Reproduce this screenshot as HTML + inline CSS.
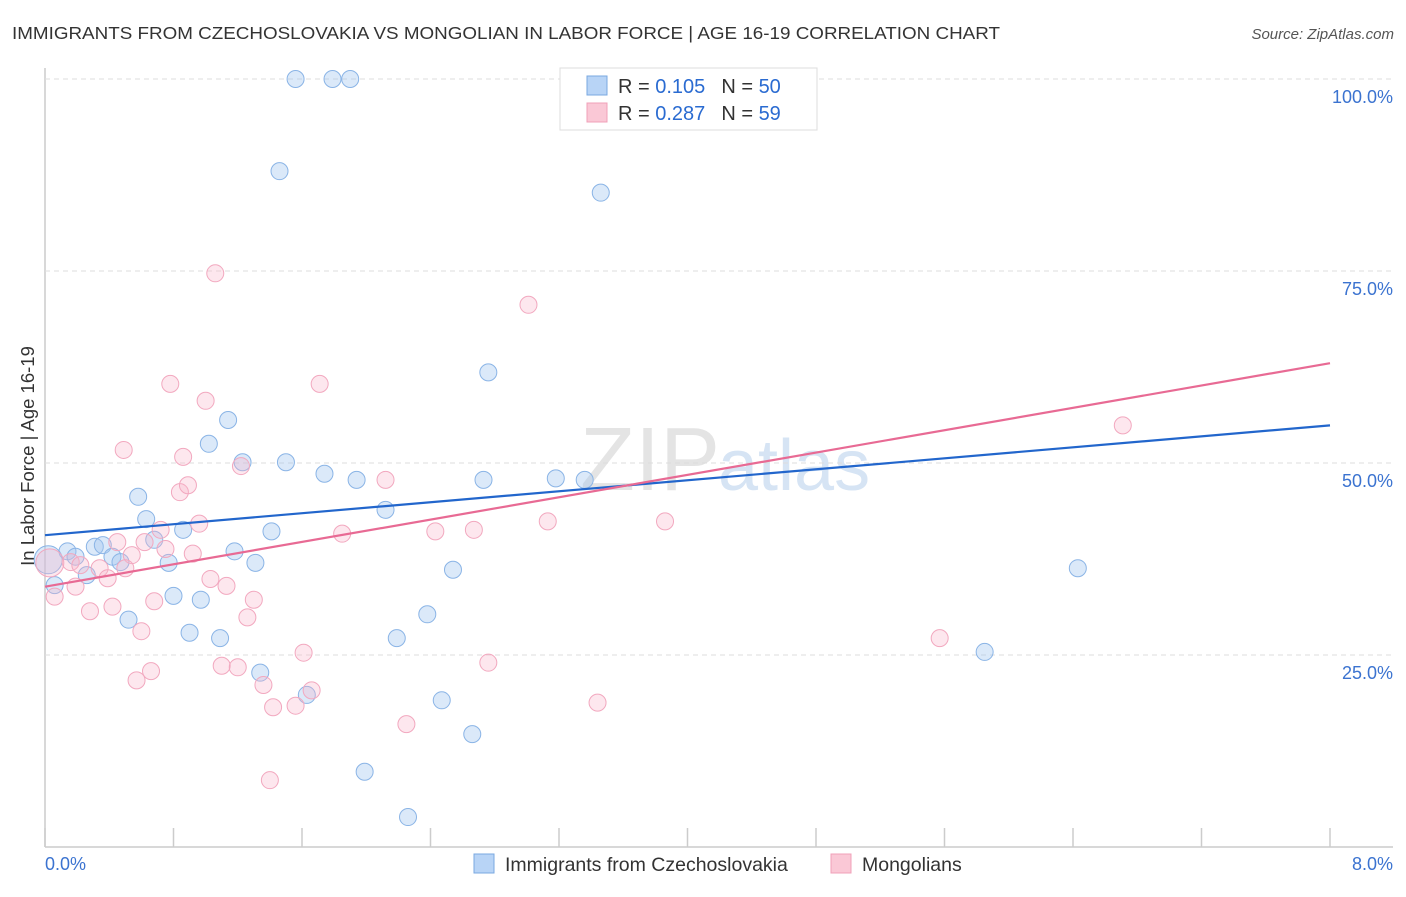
<!DOCTYPE html>
<html><head><meta charset="utf-8"><style>
body{margin:0;background:#fff;font-family:"Liberation Sans",sans-serif;}
svg text{font-family:"Liberation Sans",sans-serif;}
</style></head><body>
<svg id="chart" width="1406" height="892" xmlns="http://www.w3.org/2000/svg">
<text x="12" y="39" font-size="17.5" fill="#333" textLength="988" lengthAdjust="spacingAndGlyphs">IMMIGRANTS FROM CZECHOSLOVAKIA VS MONGOLIAN IN LABOR FORCE | AGE 16-19 CORRELATION CHART</text>
<text x="1394" y="39" font-size="15" fill="#555" text-anchor="end" font-style="italic">Source: ZipAtlas.com</text>
<text x="720" y="490" font-size="90" fill="#e4e4e4" text-anchor="end" font-family="Liberation Serif">ZIP</text>
<text x="718" y="490" font-size="72" fill="#d6e4f4">atlas</text>
<text transform="translate(34,456) rotate(-90)" font-size="18.5" fill="#333" text-anchor="middle">In Labor Force | Age 16-19</text>
<g id="grid"></g><g id="ticks"></g><g id="pts"></g><g id="lines"></g>
<g>
<rect x="560" y="68" width="257" height="62" fill="#fff" stroke="#ddd"/>
<rect x="587" y="76" width="20" height="19" fill="#b8d4f6" stroke="#7aa8e0"/>
<rect x="587" y="103" width="20" height="19" fill="#fac8d6" stroke="#f0a0b8"/>
<text x="618" y="93" font-size="20" fill="#333">R = <tspan fill="#2a6bd1">0.105</tspan><tspan dx="16">N = </tspan><tspan fill="#2a6bd1">50</tspan></text>
<text x="618" y="120" font-size="20" fill="#333">R = <tspan fill="#2a6bd1">0.287</tspan><tspan dx="16">N = </tspan><tspan fill="#2a6bd1"> 59</tspan></text>
</g>
<text x="45" y="870" font-size="18" fill="#3b73d0">0.0%</text>
<text x="1393" y="870" font-size="18" fill="#3b73d0" text-anchor="end">8.0%</text>
<g><rect x="474" y="854" width="20" height="19" fill="#b8d4f6" stroke="#7aa8e0"/><text x="505" y="871" font-size="19.5" fill="#333">Immigrants from Czechoslovakia</text></g>
<g><rect x="831" y="854" width="20" height="19" fill="#fac8d6" stroke="#f0a0b8"/><text x="862" y="871" font-size="19.5" fill="#333">Mongolians</text></g>
</svg>
<script>
const yTicks=[25,50,75,100];
const yTickLabels=["25.0%","50.0%","75.0%","100.0%"];
const xTicks=[0,0.8,1.6,2.4,3.2,4.0,4.8,5.6,6.4,7.2,8.0];
const blueX=[1.56,1.79,1.90,1.46,3.46,2.76,1.14,1.02,1.23,1.50,1.74,1.94,2.73,3.18,3.36,0.58,0.63,0.86,2.12,1.41,0.68,0.31,0.36,0.14,0.19,0.42,0.47,0.77,1.18,1.31,2.54,6.43,0.26,0.06,0.80,0.97,0.52,0.90,1.09,2.19,2.38,5.85,1.34,1.63,2.47,2.66,1.99,2.26,0.02,3.61];
const blueY=[100,100,100,88.0,85.2,61.8,55.6,52.5,50.1,50.1,48.6,47.8,47.8,48.0,47.8,45.6,42.7,41.3,43.9,41.1,40.0,39.1,39.3,38.5,37.8,37.8,37.1,37.0,38.5,37.0,36.1,36.3,35.4,34.1,32.7,32.2,29.6,27.9,27.2,27.2,30.3,25.4,22.7,19.8,19.1,14.7,9.8,3.9,37.4,100.1];
const pinkX=[1.06,3.01,0.78,1.71,1.00,6.71,0.49,0.86,1.22,2.12,0.84,0.89,0.72,0.96,1.85,2.43,2.67,3.13,3.86,0.62,0.75,0.92,0.54,0.45,0.16,0.22,0.34,0.50,0.39,0.03,0.06,0.19,0.42,0.28,0.68,1.03,1.13,1.30,1.26,0.60,5.57,1.61,2.76,0.66,0.57,1.10,1.20,1.36,1.66,1.42,1.56,3.44,2.25,1.40,4.00];
const pinkY=[74.7,70.6,60.3,60.3,58.1,54.9,51.7,50.8,49.6,47.8,46.2,47.1,41.3,42.1,40.8,41.1,41.3,42.4,42.4,39.7,38.8,38.2,38.0,39.7,37.1,36.7,36.3,36.3,35.0,37.0,32.6,33.9,31.3,30.7,32.0,34.9,34.0,32.2,29.9,28.1,27.2,25.3,24.0,22.9,21.7,23.6,23.4,21.1,20.4,18.2,18.4,18.8,16.0,8.7,99.9];
const blueFit=[40.6,54.9];
const pinkFit=[33.9,63.0];
const NS="http://www.w3.org/2000/svg";
const X=v=>45+v*160.625, Y=v=>847-v*7.68;
function mk(t,a,p){const e=document.createElementNS(NS,t);for(const k in a)e.setAttribute(k,a[k]);p.appendChild(e);return e;}
const grid=document.getElementById('grid'),ticks=document.getElementById('ticks'),pts=document.getElementById('pts'),lines=document.getElementById('lines');
let ax=mk('line',{x1:45,y1:68,x2:45,y2:847,stroke:'#ccc','stroke-width':1.5},grid);


let bx=mk('line',{x1:45,y1:847,x2:1393,y2:847,stroke:'#ccc','stroke-width':1.5},grid);


yTicks.forEach((t,i)=>{
 const g=mk('line',{x1:45,x2:1393,y1:Y(t),y2:Y(t),stroke:'#ddd','stroke-dasharray':'5,4'},grid);
 
 
 const tx=mk('text',{x:1393,y:Y(t)+24,'font-size':18,fill:'#3b73d0','text-anchor':'end'},ticks);
 tx.textContent=yTickLabels[i];
 
 
});
xTicks.forEach(t=>{
 const l=mk('line',{x1:X(t),x2:X(t),y1:828,y2:847,stroke:'#ccc','stroke-width':1.5},ticks);
 
 
});
function dots(xs,ys,fill,stroke,name,bigIdx){
 xs.forEach((x,i)=>{
  const r=(i===bigIdx)?14:8.5;
  const c=mk('circle',{cx:X(x),cy:Y(ys[i]),r:r,fill:fill,stroke:stroke,'stroke-width':1},pts);
  
  
 });
}
dots(blueX,blueY,'rgba(160,196,240,0.38)','#8ab4e6','czech-point',48);
dots(pinkX,pinkY,'rgba(248,180,202,0.32)','#f2a8bf','mongolian-point',29);
const bl=mk('line',{x1:X(0),y1:Y(blueFit[0]),x2:X(8),y2:Y(blueFit[1]),stroke:'#2266cc','stroke-width':2.2},lines);


const pl=mk('line',{x1:X(0),y1:Y(pinkFit[0]),x2:X(8),y2:Y(pinkFit[1]),stroke:'#e86a94','stroke-width':2.2},lines);


</script>
</body></html>
